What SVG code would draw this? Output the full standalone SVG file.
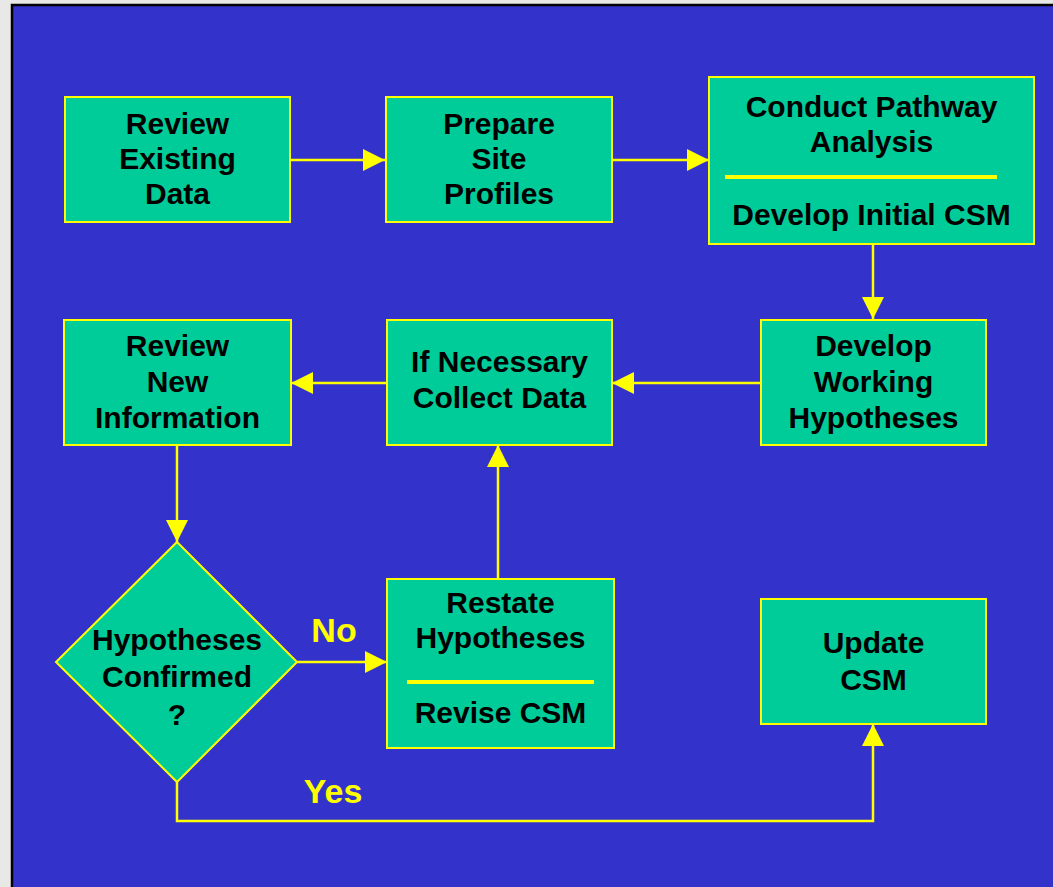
<svg xmlns="http://www.w3.org/2000/svg" width="1053" height="887" viewBox="0 0 1053 887">
<defs>
<style>
.box{fill:#00CC99;stroke:#FFFF00;stroke-width:2}
.sep{stroke:#FFFF00;stroke-width:4}
.t{font-family:"Liberation Sans",Arial,sans-serif;font-weight:bold;font-size:30px;fill:#000;text-anchor:middle}
.lbl{font-family:"Liberation Sans",Arial,sans-serif;font-weight:bold;font-size:34px;fill:#FFFF00;text-anchor:middle}
.c{fill:none;stroke:#FFFF00;stroke-width:2.5}
</style>
<marker id="ah" markerUnits="userSpaceOnUse" markerWidth="22" markerHeight="22" viewBox="0 0 20 20" refX="20" refY="10" orient="auto">
<path d="M0,0 L20,10 L0,20 Z" fill="#FFFF00"/>
</marker>
</defs>
<rect x="0" y="0" width="1053" height="887" fill="#E8E8E6"/>
<rect x="12" y="5" width="1045" height="886" fill="#3333CC" stroke="#000" stroke-width="2.5"/>

<g id="connectors">
<line class="c" x1="291" y1="160" x2="385" y2="160" marker-end="url(#ah)"/>
<line class="c" x1="612" y1="160" x2="709" y2="160" marker-end="url(#ah)"/>
<line class="c" x1="873" y1="244" x2="873" y2="319" marker-end="url(#ah)"/>
<line class="c" x1="761" y1="383" x2="612" y2="383" marker-end="url(#ah)"/>
<line class="c" x1="387" y1="383" x2="291" y2="383" marker-end="url(#ah)"/>
<line class="c" x1="177" y1="445" x2="177" y2="542" marker-end="url(#ah)"/>
<line class="c" x1="297" y1="662" x2="387" y2="662" marker-end="url(#ah)"/>
<line class="c" x1="498" y1="579" x2="498" y2="445" marker-end="url(#ah)"/>
<polyline class="c" points="177,782 177,821 873,821 873,724" marker-end="url(#ah)"/>
<text class="lbl" x="334" y="642">No</text>
<text class="lbl" x="333" y="803">Yes</text>
</g>

<g id="review-existing">
<rect class="box" x="65" y="97" width="225" height="125"/>
<text class="t" x="177.5" y="134">Review</text>
<text class="t" x="177.5" y="169">Existing</text>
<text class="t" x="177.5" y="204">Data</text>
</g>

<g id="prepare-site">
<rect class="box" x="386" y="97" width="226" height="125"/>
<text class="t" x="499" y="134">Prepare</text>
<text class="t" x="499" y="169">Site</text>
<text class="t" x="499" y="204">Profiles</text>
</g>

<g id="conduct-pathway">
<rect class="box" x="709" y="77" width="325" height="167"/>
<text class="t" x="871.5" y="117">Conduct Pathway</text>
<text class="t" x="871.5" y="152">Analysis</text>
<line class="sep" x1="725" y1="177" x2="997" y2="177"/>
<text class="t" x="871.5" y="225">Develop Initial CSM</text>
</g>

<g id="develop-working">
<rect class="box" x="761" y="320" width="225" height="125"/>
<text class="t" x="873.5" y="356">Develop</text>
<text class="t" x="873.5" y="392">Working</text>
<text class="t" x="873.5" y="428">Hypotheses</text>
</g>

<g id="collect-data">
<rect class="box" x="387" y="320" width="225" height="125"/>
<text class="t" x="499.5" y="372">If Necessary</text>
<text class="t" x="499.5" y="408">Collect Data</text>
</g>

<g id="review-new">
<rect class="box" x="64" y="320" width="227" height="125"/>
<text class="t" x="177.5" y="356">Review</text>
<text class="t" x="177.5" y="392">New</text>
<text class="t" x="177.5" y="428">Information</text>
</g>

<g id="decision">
<polygon class="box" points="177,542 297,662 177,782 56,662"/>
<text class="t" x="177" y="650">Hypotheses</text>
<text class="t" x="177" y="687">Confirmed</text>
<text class="t" x="177" y="725">?</text>
</g>

<g id="restate">
<rect class="box" x="387" y="579" width="227" height="169"/>
<text class="t" x="500.5" y="613">Restate</text>
<text class="t" x="500.5" y="648">Hypotheses</text>
<line class="sep" x1="407" y1="682" x2="594" y2="682"/>
<text class="t" x="500.5" y="723">Revise CSM</text>
</g>

<g id="update-csm">
<rect class="box" x="761" y="599" width="225" height="125"/>
<text class="t" x="873.5" y="653">Update</text>
<text class="t" x="873.5" y="690">CSM</text>
</g>
</svg>
